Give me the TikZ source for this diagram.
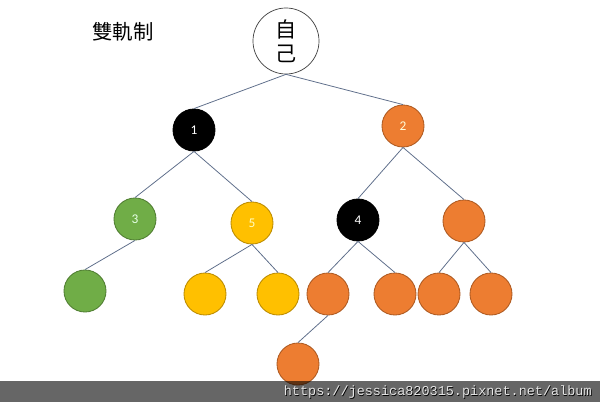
\documentclass[tikz,border=0pt]{standalone}
\usepackage{fontspec}
\setmainfont{Carlito}
\newfontfamily\cjk{Noto Sans CJK TC}
\newfontfamily\monofnt{Liberation Mono}
\definecolor{edgec}{HTML}{5E6E8A}
\definecolor{orangef}{HTML}{ED7D31}
\definecolor{oranged}{HTML}{AE5A21}
\definecolor{greenf}{HTML}{70AD47}
\definecolor{greend}{HTML}{507E32}
\definecolor{yellowf}{HTML}{FFC000}
\definecolor{yellowd}{HTML}{BC8C00}
\tikzset{
  nd/.style={circle, inner sep=0pt, minimum size=1.05cm, line width=0.6pt, font=\fontsize{9.5}{11}\selectfont},
  blk/.style={nd, fill=black, draw=black, text=white},
  org/.style={nd, fill=orangef, draw=oranged, text=white!85!yellow},
  grn/.style={nd, fill=greenf, draw=greend, text=white!90!green},
  ylw/.style={nd, fill=yellowf, draw=yellowd, text=white!75!yellow},
  ln/.style={draw=edgec, line width=0.55pt},
}
\begin{document}
\begin{tikzpicture}[x=0.025cm, y=-0.025cm]
\useasboundingbox (0,0) rectangle (600,402);
\fill[white] (0,0) rectangle (600,402);
\node[font=\cjk\fontsize{14.5}{16}\selectfont] (title) at (123,32) {雙軌制};
\node[circle, draw=black!75, line width=0.5pt, fill=white, minimum size=1.65cm, inner sep=0pt, align=center, font=\cjk\fontsize{15}{17}\selectfont] (root) at (286,41) {自\\己};
\node[blk] (n1) at (194,130) {1};
\node[org] (n2) at (403,126) {2};
\node[grn] (n3) at (135,219) {3};
\node[ylw] (n5) at (252,223) {5};
\node[blk] (n4) at (358,220) {4};
\node[org] (n6) at (464,221) {};
\node[grn] (g1) at (85,291) {};
\node[ylw] (y1) at (205,294) {};
\node[ylw] (y2) at (278,294) {};
\node[org] (o1) at (328,294) {};
\node[org] (o2) at (395,294) {};
\node[org] (o3) at (439,294) {};
\node[org] (o4) at (491,294) {};
\node[org] (o5) at (298,364) {};
\draw[ln] (root.south) -- (n1.north);
\draw[ln] (root.south) -- (n2.north);
\draw[ln] (n1.south) -- (n3.north);
\draw[ln] (n1.south) -- (n5.north);
\draw[ln] (n2.south) -- (n4.north);
\draw[ln] (n2.south) -- (n6.north);
\draw[ln] (n3.south) -- (g1.north);
\draw[ln] (n5.south) -- (y1.north);
\draw[ln] (n5.south) -- (y2.north);
\draw[ln] (n4.south) -- (o1.north);
\draw[ln] (n4.south) -- (o2.north);
\draw[ln] (n6.south) -- (o3.north);
\draw[ln] (n6.south) -- (o4.north);
\draw[ln] (o1.south) -- (o5.north);
\fill[black, opacity=0.6] (0,381) rectangle (600,402);
\node[anchor=east, text=black, font=\monofnt\fontsize{9.6}{11}\selectfont, inner sep=0pt] (wmshadow) at (592.7,392.7) {https://jessica820315.pixnet.net/album};
\node[anchor=east, text=white!90!black, font=\monofnt\fontsize{9.6}{11}\selectfont, inner sep=0pt] (wm) at (592,392) {https://jessica820315.pixnet.net/album};
\end{tikzpicture}
\end{document}
